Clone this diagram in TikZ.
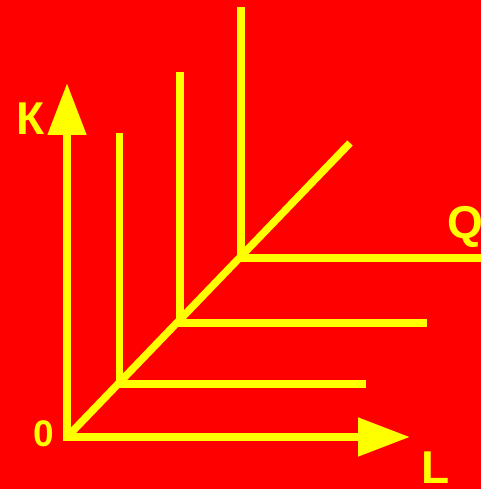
\documentclass[tikz,border=0pt]{standalone}
\usepackage{fontspec}
\setmainfont{Liberation Sans}
\usetikzlibrary{arrows.meta}
\definecolor{bgred}{RGB}{255,0,0}
\definecolor{lineyellow}{RGB}{255,255,0}
\begin{document}
\begin{tikzpicture}[x=1pt, y=-1pt,
        axis/.style={draw=lineyellow, line width=8pt, line join=miter,
            {Triangle[length=52pt,width=37pt]}-{Triangle[length=52pt,width=37pt]}},
        isoquant/.style={draw=lineyellow, line width=7.5pt, line join=miter},
        ray/.style={draw=lineyellow, line width=7.5pt},
        axislabel/.style={text=lineyellow, inner sep=0pt, anchor=base west,
            font=\bfseries\fontsize{46}{46}\selectfont},
        originlabel/.style={axislabel, font=\bfseries\fontsize{37}{37}\selectfont}]
        \fill[bgred] (0,0) rectangle (481,489);
        \clip (0,0) rectangle (481,489);
        % axes
        \coordinate (O) at (67,437);
        \coordinate (Ktip) at (67,83);
        \coordinate (Ltip) at (410,437);
        \draw[axis] (Ktip) -- (O) -- (Ltip);
        % expansion path
        \coordinate (rayend) at (350,143);
        \draw[ray] (O) -- (rayend);
        % isoquants
        \coordinate (c1) at (119.5,384);
        \coordinate (c2) at (180,323);
        \coordinate (c3) at (241,258);
        \coordinate (t1) at (119.5,133);
        \coordinate (t2) at (180,72);
        \coordinate (t3) at (241,7);
        \coordinate (e1) at (366,384);
        \coordinate (e2) at (427,323);
        \coordinate (e3) at (490,258);
        \draw[isoquant] (t1) -- (c1) -- (e1);
        \draw[isoquant] (t2) -- (c2) -- (e2);
        \draw[isoquant] (t3) -- (c3) -- (e3);
        % labels
        \node[axislabel] (K) at (16,135) {К};
        \node[axislabel] (L) at (421.5,483) {L};
        \node[axislabel] (Q) at (447.5,238) {Q};
        \node[originlabel] (zero) at (33.5,446.5) {0};
    \end{tikzpicture}
\end{document}
